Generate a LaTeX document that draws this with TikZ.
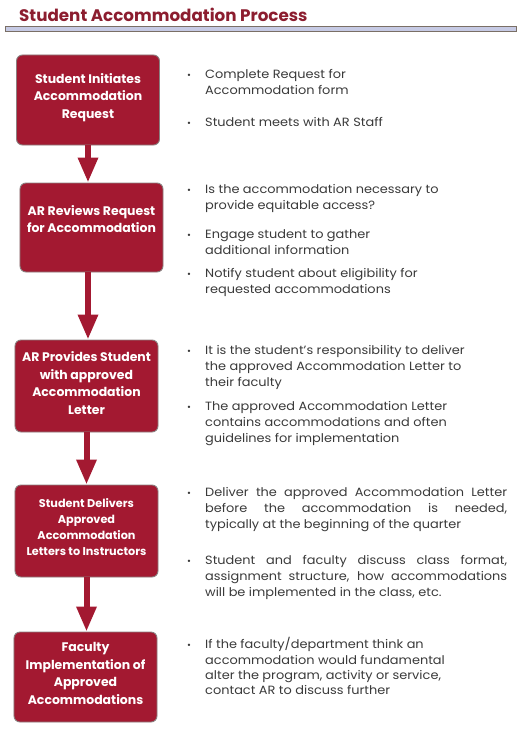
\documentclass[tikz,border=0pt]{standalone}
\usepackage{fontspec}
\setmainfont{Poppins}
\newfontfamily\bodyfont[FakeStretch=1.08]{Poppins}
\usetikzlibrary{arrows.meta}
\definecolor{crim}{HTML}{A31931}
\definecolor{titlered}{HTML}{8C1D2F}
\definecolor{barfill}{HTML}{C6CAE4}
\definecolor{bargray}{HTML}{7A6F66}
\definecolor{txt}{HTML}{3A3A3A}
\definecolor{boxedge}{HTML}{8A7F7F}
\begin{document}
\begin{tikzpicture}[x=1bp,y=-1bp,
  stepbox/.style={draw=boxedge, line width=0.9bp, fill=crim, rounded corners=6bp, minimum width=143bp, inner sep=0pt},
  boxtxt/.style={text=white, font=\bfseries\fontsize{12.5}{17.5}\selectfont, align=center, inner sep=0pt},
  flow/.style={draw=crim, line width=6bp, -{Triangle[width=19bp,length=25bp]}},
  ln/.style={anchor=base west, text=txt, font=\bodyfont\fontsize{12}{16}\selectfont, inner sep=0pt},
  bul/.style={anchor=base west, text=txt, font=\fontsize{9.5}{10}\selectfont, inner sep=0pt}
]
\useasboundingbox (0,0) rectangle (528,740);
\node[anchor=base west, inner sep=0pt, text=titlered, font=\bfseries\fontsize{16.8}{20}\selectfont] (title) at (19,22) {Student Accommodation Process};
\draw[fill=barfill, draw=bargray, line width=0.7bp] (5,26) rectangle (516,31);

% boxes
\node[stepbox, minimum height=90bp] (b1) at (88,100) {};
\node[boxtxt] (b1t) at (88,97.5) {Student Initiates\\Accommodation\\Request};
\node[stepbox, minimum height=89bp] (b2) at (91.5,227.5) {};
\node[boxtxt] (b2t) at (91.5,219) {AR Reviews Request\\for Accommodation};
\node[stepbox, minimum height=92bp] (b3) at (86.5,386) {};
\node[boxtxt] (b3t) at (86.5,383) {AR Provides  Student\\with  approved\\Accommodation\\Letter};
\node[stepbox, minimum height=92bp] (b4) at (86.5,531) {};
\node[boxtxt, font=\bfseries\fontsize{11.3}{16}\selectfont] (b4t) at (86.5,527) {Student Delivers\\Approved\\Accommodation\\Letters to Instructors};
\node[stepbox, minimum height=90bp] (b5) at (85.5,677) {};
\node[boxtxt] (b5t) at (85.5,673.5) {Faculty\\Implementation  of\\Approved\\Accommodations};

% arrows
\draw[flow] (b1.south) -- (b1.south |- b2.north);
\draw[flow] (b2.south -| b1.south) -- (b1.south |- b3.north);
\draw[flow] (b3.south) -- (b3.south |- b4.north);
\draw[flow] (b4.south) -- (b4.south |- b5.north);

% bullets, box 1
\node[bul] (d11) at (187,78) {•};
\node[ln] (l111) at (205,78) {Complete Request for};
\node[ln] (l112) at (205,94) {Accommodation form};
\node[bul] (d12) at (187,126) {•};
\node[ln] (l121) at (205,126) {Student meets with AR Staff};

% box 2
\node[bul] (d21) at (187,193) {•};
\node[ln] (l211) at (205,193) {Is the accommodation necessary to};
\node[ln] (l212) at (205,209) {provide equitable access?};
\node[bul] (d22) at (187,238) {•};
\node[ln] (l221) at (205,238) {Engage student to gather};
\node[ln] (l222) at (205,254) {additional information};
\node[bul] (d23) at (187,277) {•};
\node[ln] (l231) at (205,277) {Notify student about eligibility for};
\node[ln] (l232) at (205,293) {requested accommodations};

% box 3
\node[bul] (d31) at (187,354) {•};
\node[ln] (l311) at (205,354) {It is the student’s responsibility to deliver};
\node[ln] (l312) at (205,370) {the  approved Accommodation Letter to};
\node[ln] (l313) at (205,386) {their faculty};
\node[bul] (d32) at (187,410) {•};
\node[ln] (l321) at (205,410) {The approved Accommodation Letter};
\node[ln] (l322) at (205,426) {contains accommodations and often};
\node[ln] (l323) at (205,442) {guidelines for implementation};

% box 4
\node[bul] (d41) at (187,496) {•};
\node[ln] (l411) at (205,496) {\makebox[302bp][s]{Deliver the approved Accommodation Letter}};
\node[ln] (l412) at (205,512) {\makebox[302bp][s]{before the accommodation is needed,}};
\node[ln] (l413) at (205,528) {typically  at the beginning of the quarter};
\node[bul] (d42) at (187,564) {•};
\node[ln] (l421) at (205,564) {\makebox[302bp][s]{Student and faculty discuss class format,}};
\node[ln] (l422) at (205,580) {\makebox[302bp][s]{assignment structure, how accommodations}};
\node[ln] (l423) at (205,596) {will be implemented in the class, etc.};

% box 5
\node[bul] (d51) at (187,648) {•};
\node[ln] (l511) at (205,648) {If the faculty/department think an};
\node[ln] (l512) at (205,664) {accommodation would fundamental};
\node[ln] (l513) at (205,679) {alter the program, activity or service,};
\node[ln] (l514) at (205,694) {contact AR to discuss further};
\end{tikzpicture}
\end{document}
